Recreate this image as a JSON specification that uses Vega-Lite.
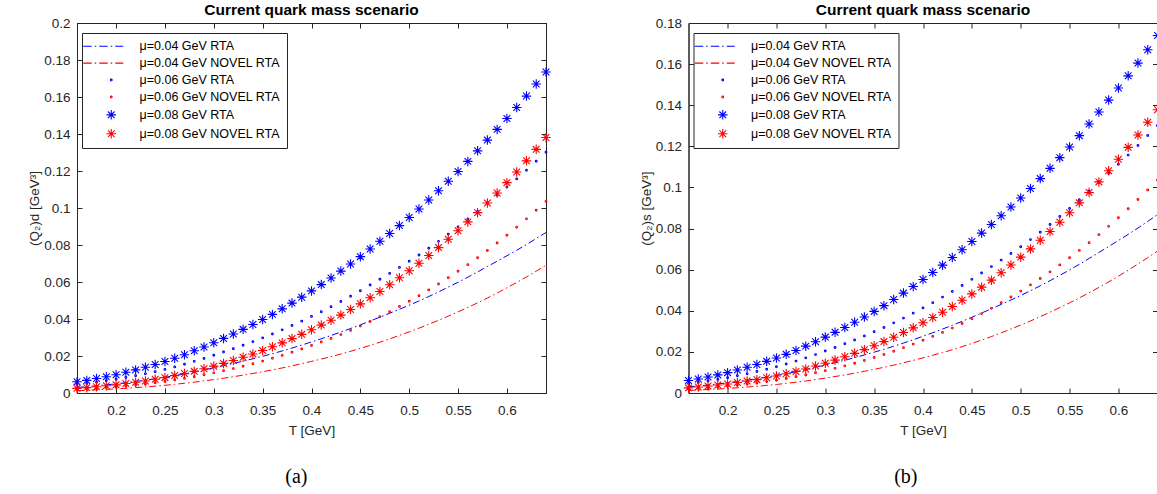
{
 "$schema": "https://vega.github.io/schema/vega-lite/v6.json",
 "padding": {"left": 27, "top": 2, "right": 5, "bottom": 5},
 "background": "white",
 "config": {
  "view": {"stroke": "#262626", "strokeWidth": 1},
  "font": "Liberation Sans",
  "axis": {"labelFont": "Liberation Sans", "labelFontSize": 13.5, "labelColor": "#262626", "titleFont": "Liberation Sans", "titleFontSize": 13.5, "titleFontWeight": "normal", "titleColor": "#262626", "domainColor": "#262626", "tickColor": "#262626", "tickSize": -5, "grid": false},
  "axisX": {"labelPadding": 15.3, "titlePadding": 7},
  "axisY": {"labelPadding": 12, "titlePadding": 2},
  "title": {"font": "Liberation Sans", "fontSize": 15.5, "fontWeight": "bold", "color": "black", "offset": -2},
  "legend": {"title": null, "orient": "none", "legendX": 5, "legendY": 10, "padding": 7, "strokeColor": "#262626", "fillColor": "white", "symbolOffset": 16, "labelOffset": 22, "rowPadding": 3.9, "labelFont": "Liberation Sans", "labelFontSize": 12.5, "labelColor": "black", "labelLimit": 300, "symbolStrokeWidth": 1.1, "symbolSize": 100}
 },
 "resolve": {"scale": {"color": "independent", "shape": "independent"}, "legend": {"color": "independent", "shape": "independent"}},
 "datasets": {
  "qd": [
  {"T":0.16,"b4":0.00305,"r4":0.00125,"b6":0.00458,"r6":0.00188,"b8":0.0061,"r8":0.0025},
  {"T":0.17,"b4":0.0034,"r4":0.00145,"b6":0.0051,"r6":0.00218,"b8":0.0068,"r8":0.0029},
  {"T":0.18,"b4":0.0039,"r4":0.0017,"b6":0.00585,"r6":0.00255,"b8":0.0078,"r8":0.0034},
  {"T":0.19,"b4":0.0044,"r4":0.00195,"b6":0.0066,"r6":0.00293,"b8":0.0088,"r8":0.0039},
  {"T":0.2,"b4":0.00495,"r4":0.0022,"b6":0.00743,"r6":0.0033,"b8":0.0099,"r8":0.0044},
  {"T":0.21,"b4":0.0056,"r4":0.00255,"b6":0.0084,"r6":0.00383,"b8":0.0112,"r8":0.0051},
  {"T":0.22,"b4":0.00625,"r4":0.0029,"b6":0.00938,"r6":0.00435,"b8":0.0125,"r8":0.0058},
  {"T":0.23,"b4":0.00695,"r4":0.00325,"b6":0.01043,"r6":0.00488,"b8":0.0139,"r8":0.0065},
  {"T":0.24,"b4":0.0077,"r4":0.0037,"b6":0.01155,"r6":0.00555,"b8":0.0154,"r8":0.0074},
  {"T":0.25,"b4":0.0085,"r4":0.00415,"b6":0.01275,"r6":0.00623,"b8":0.017,"r8":0.0083},
  {"T":0.26,"b4":0.0094,"r4":0.0047,"b6":0.0141,"r6":0.00705,"b8":0.0188,"r8":0.0094},
  {"T":0.27,"b4":0.01035,"r4":0.00525,"b6":0.01553,"r6":0.00788,"b8":0.0207,"r8":0.0105},
  {"T":0.28,"b4":0.0114,"r4":0.00585,"b6":0.0171,"r6":0.00878,"b8":0.0228,"r8":0.0117},
  {"T":0.29,"b4":0.01245,"r4":0.00655,"b6":0.01868,"r6":0.00983,"b8":0.0249,"r8":0.0131},
  {"T":0.3,"b4":0.0136,"r4":0.00725,"b6":0.0204,"r6":0.01088,"b8":0.0272,"r8":0.0145},
  {"T":0.31,"b4":0.01475,"r4":0.008,"b6":0.02213,"r6":0.012,"b8":0.0295,"r8":0.016},
  {"T":0.32,"b4":0.01595,"r4":0.0088,"b6":0.02393,"r6":0.0132,"b8":0.0319,"r8":0.0176},
  {"T":0.33,"b4":0.0172,"r4":0.00965,"b6":0.0258,"r6":0.01448,"b8":0.0344,"r8":0.0193},
  {"T":0.34,"b4":0.0185,"r4":0.01055,"b6":0.02775,"r6":0.01583,"b8":0.037,"r8":0.0211},
  {"T":0.35,"b4":0.01985,"r4":0.0115,"b6":0.02978,"r6":0.01725,"b8":0.0397,"r8":0.023},
  {"T":0.36,"b4":0.02125,"r4":0.0125,"b6":0.03188,"r6":0.01875,"b8":0.0425,"r8":0.025},
  {"T":0.37,"b4":0.02275,"r4":0.01355,"b6":0.03413,"r6":0.02033,"b8":0.0455,"r8":0.0271},
  {"T":0.38,"b4":0.0243,"r4":0.0147,"b6":0.03645,"r6":0.02205,"b8":0.0486,"r8":0.0294},
  {"T":0.39,"b4":0.0259,"r4":0.01585,"b6":0.03885,"r6":0.02378,"b8":0.0518,"r8":0.0317},
  {"T":0.4,"b4":0.0276,"r4":0.0171,"b6":0.0414,"r6":0.02565,"b8":0.0552,"r8":0.0342},
  {"T":0.41,"b4":0.0293,"r4":0.01835,"b6":0.04395,"r6":0.02753,"b8":0.0586,"r8":0.0367},
  {"T":0.42,"b4":0.0311,"r4":0.01965,"b6":0.04665,"r6":0.02948,"b8":0.0622,"r8":0.0393},
  {"T":0.43,"b4":0.03295,"r4":0.02105,"b6":0.04943,"r6":0.03158,"b8":0.0659,"r8":0.0421},
  {"T":0.44,"b4":0.03485,"r4":0.02255,"b6":0.05228,"r6":0.03383,"b8":0.0697,"r8":0.0451},
  {"T":0.45,"b4":0.03685,"r4":0.0241,"b6":0.05528,"r6":0.03615,"b8":0.0737,"r8":0.0482},
  {"T":0.46,"b4":0.0389,"r4":0.02575,"b6":0.05835,"r6":0.03863,"b8":0.0778,"r8":0.0515},
  {"T":0.47,"b4":0.041,"r4":0.02745,"b6":0.0615,"r6":0.04118,"b8":0.082,"r8":0.0549},
  {"T":0.48,"b4":0.0431,"r4":0.02925,"b6":0.06465,"r6":0.04388,"b8":0.0862,"r8":0.0585},
  {"T":0.49,"b4":0.04525,"r4":0.03115,"b6":0.06788,"r6":0.04673,"b8":0.0905,"r8":0.0623},
  {"T":0.5,"b4":0.04745,"r4":0.03305,"b6":0.07118,"r6":0.04958,"b8":0.0949,"r8":0.0661},
  {"T":0.51,"b4":0.04975,"r4":0.03505,"b6":0.07463,"r6":0.05258,"b8":0.0995,"r8":0.0701},
  {"T":0.52,"b4":0.05215,"r4":0.03715,"b6":0.07823,"r6":0.05573,"b8":0.1043,"r8":0.0743},
  {"T":0.53,"b4":0.05465,"r4":0.0393,"b6":0.08198,"r6":0.05895,"b8":0.1093,"r8":0.0786},
  {"T":0.54,"b4":0.05725,"r4":0.04155,"b6":0.08588,"r6":0.06233,"b8":0.1145,"r8":0.0831},
  {"T":0.55,"b4":0.05985,"r4":0.04385,"b6":0.08978,"r6":0.06578,"b8":0.1197,"r8":0.0877},
  {"T":0.56,"b4":0.0626,"r4":0.04625,"b6":0.0939,"r6":0.06938,"b8":0.1252,"r8":0.0925},
  {"T":0.57,"b4":0.06545,"r4":0.04875,"b6":0.09818,"r6":0.07313,"b8":0.1309,"r8":0.0975},
  {"T":0.58,"b4":0.06835,"r4":0.05135,"b6":0.10253,"r6":0.07703,"b8":0.1367,"r8":0.1027},
  {"T":0.59,"b4":0.07125,"r4":0.05405,"b6":0.10688,"r6":0.08108,"b8":0.1425,"r8":0.1081},
  {"T":0.6,"b4":0.0742,"r4":0.05685,"b6":0.1113,"r6":0.08528,"b8":0.1484,"r8":0.1137},
  {"T":0.61,"b4":0.07715,"r4":0.05975,"b6":0.11573,"r6":0.08963,"b8":0.1543,"r8":0.1195},
  {"T":0.62,"b4":0.08025,"r4":0.06275,"b6":0.12038,"r6":0.09413,"b8":0.1605,"r8":0.1255},
  {"T":0.63,"b4":0.0835,"r4":0.06585,"b6":0.12525,"r6":0.09878,"b8":0.167,"r8":0.1317},
  {"T":0.64,"b4":0.08675,"r4":0.06905,"b6":0.13013,"r6":0.10358,"b8":0.1735,"r8":0.1381}
  ],
  "qs": [
  {"T":0.16,"B4":0.00305,"R4":0.00125,"B6":0.00458,"R6":0.00188,"B8":0.0061,"R8":0.0025},
  {"T":0.17,"B4":0.0034,"R4":0.00145,"B6":0.0051,"R6":0.00218,"B8":0.0068,"R8":0.0029},
  {"T":0.18,"B4":0.0039,"R4":0.0017,"B6":0.00585,"R6":0.00255,"B8":0.0078,"R8":0.0034},
  {"T":0.19,"B4":0.0044,"R4":0.00195,"B6":0.0066,"R6":0.00293,"B8":0.0088,"R8":0.0039},
  {"T":0.2,"B4":0.00495,"R4":0.0022,"B6":0.00743,"R6":0.0033,"B8":0.0099,"R8":0.0044},
  {"T":0.21,"B4":0.0056,"R4":0.00255,"B6":0.0084,"R6":0.00383,"B8":0.0112,"R8":0.0051},
  {"T":0.22,"B4":0.00625,"R4":0.0029,"B6":0.00938,"R6":0.00435,"B8":0.0125,"R8":0.0058},
  {"T":0.23,"B4":0.00695,"R4":0.00325,"B6":0.01043,"R6":0.00488,"B8":0.0139,"R8":0.0065},
  {"T":0.24,"B4":0.0077,"R4":0.0037,"B6":0.01155,"R6":0.00555,"B8":0.0154,"R8":0.0074},
  {"T":0.25,"B4":0.0085,"R4":0.00415,"B6":0.01275,"R6":0.00623,"B8":0.017,"R8":0.0083},
  {"T":0.26,"B4":0.0094,"R4":0.0047,"B6":0.0141,"R6":0.00705,"B8":0.0188,"R8":0.0094},
  {"T":0.27,"B4":0.01035,"R4":0.00525,"B6":0.01553,"R6":0.00788,"B8":0.0207,"R8":0.0105},
  {"T":0.28,"B4":0.0114,"R4":0.00585,"B6":0.0171,"R6":0.00878,"B8":0.0228,"R8":0.0117},
  {"T":0.29,"B4":0.01245,"R4":0.00655,"B6":0.01868,"R6":0.00983,"B8":0.0249,"R8":0.0131},
  {"T":0.3,"B4":0.0136,"R4":0.00725,"B6":0.0204,"R6":0.01088,"B8":0.0272,"R8":0.0145},
  {"T":0.31,"B4":0.01475,"R4":0.008,"B6":0.02213,"R6":0.012,"B8":0.0295,"R8":0.016},
  {"T":0.32,"B4":0.01595,"R4":0.0088,"B6":0.02393,"R6":0.0132,"B8":0.0319,"R8":0.0176},
  {"T":0.33,"B4":0.0172,"R4":0.00965,"B6":0.0258,"R6":0.01448,"B8":0.0344,"R8":0.0193},
  {"T":0.34,"B4":0.0185,"R4":0.01055,"B6":0.02775,"R6":0.01583,"B8":0.037,"R8":0.0211},
  {"T":0.35,"B4":0.01985,"R4":0.0115,"B6":0.02978,"R6":0.01725,"B8":0.0397,"R8":0.023},
  {"T":0.36,"B4":0.02125,"R4":0.0125,"B6":0.03188,"R6":0.01875,"B8":0.0425,"R8":0.025},
  {"T":0.37,"B4":0.02275,"R4":0.01355,"B6":0.03413,"R6":0.02033,"B8":0.0455,"R8":0.0271},
  {"T":0.38,"B4":0.0243,"R4":0.0147,"B6":0.03645,"R6":0.02205,"B8":0.0486,"R8":0.0294},
  {"T":0.39,"B4":0.0259,"R4":0.01585,"B6":0.03885,"R6":0.02378,"B8":0.0518,"R8":0.0317},
  {"T":0.4,"B4":0.0276,"R4":0.0171,"B6":0.0414,"R6":0.02565,"B8":0.0552,"R8":0.0342},
  {"T":0.41,"B4":0.0293,"R4":0.01835,"B6":0.04395,"R6":0.02753,"B8":0.0586,"R8":0.0367},
  {"T":0.42,"B4":0.0311,"R4":0.01965,"B6":0.04665,"R6":0.02948,"B8":0.0622,"R8":0.0393},
  {"T":0.43,"B4":0.03295,"R4":0.02105,"B6":0.04943,"R6":0.03158,"B8":0.0659,"R8":0.0421},
  {"T":0.44,"B4":0.03485,"R4":0.02255,"B6":0.05228,"R6":0.03383,"B8":0.0697,"R8":0.0451},
  {"T":0.45,"B4":0.03685,"R4":0.0241,"B6":0.05528,"R6":0.03615,"B8":0.0737,"R8":0.0482},
  {"T":0.46,"B4":0.0389,"R4":0.02575,"B6":0.05835,"R6":0.03863,"B8":0.0778,"R8":0.0515},
  {"T":0.47,"B4":0.041,"R4":0.02745,"B6":0.0615,"R6":0.04118,"B8":0.082,"R8":0.0549},
  {"T":0.48,"B4":0.0431,"R4":0.02925,"B6":0.06465,"R6":0.04388,"B8":0.0862,"R8":0.0585},
  {"T":0.49,"B4":0.04525,"R4":0.03115,"B6":0.06788,"R6":0.04673,"B8":0.0905,"R8":0.0623},
  {"T":0.5,"B4":0.04745,"R4":0.03305,"B6":0.07118,"R6":0.04958,"B8":0.0949,"R8":0.0661},
  {"T":0.51,"B4":0.04975,"R4":0.03505,"B6":0.07463,"R6":0.05258,"B8":0.0995,"R8":0.0701},
  {"T":0.52,"B4":0.05215,"R4":0.03715,"B6":0.07823,"R6":0.05573,"B8":0.1043,"R8":0.0743},
  {"T":0.53,"B4":0.05465,"R4":0.0393,"B6":0.08198,"R6":0.05895,"B8":0.1093,"R8":0.0786},
  {"T":0.54,"B4":0.05725,"R4":0.04155,"B6":0.08588,"R6":0.06233,"B8":0.1145,"R8":0.0831},
  {"T":0.55,"B4":0.05985,"R4":0.04385,"B6":0.08978,"R6":0.06578,"B8":0.1197,"R8":0.0877},
  {"T":0.56,"B4":0.0626,"R4":0.04625,"B6":0.0939,"R6":0.06938,"B8":0.1252,"R8":0.0925},
  {"T":0.57,"B4":0.06545,"R4":0.04875,"B6":0.09818,"R6":0.07313,"B8":0.1309,"R8":0.0975},
  {"T":0.58,"B4":0.06835,"R4":0.05135,"B6":0.10253,"R6":0.07703,"B8":0.1367,"R8":0.1027},
  {"T":0.59,"B4":0.07125,"R4":0.05405,"B6":0.10688,"R6":0.08108,"B8":0.1425,"R8":0.1081},
  {"T":0.6,"B4":0.0742,"R4":0.05685,"B6":0.1113,"R6":0.08528,"B8":0.1484,"R8":0.1137},
  {"T":0.61,"B4":0.07715,"R4":0.05975,"B6":0.11573,"R6":0.08963,"B8":0.1543,"R8":0.1195},
  {"T":0.62,"B4":0.08025,"R4":0.06275,"B6":0.12038,"R6":0.09413,"B8":0.1605,"R8":0.1255},
  {"T":0.63,"B4":0.0835,"R4":0.06585,"B6":0.12525,"R6":0.09878,"B8":0.167,"R8":0.1317},
  {"T":0.64,"B4":0.08675,"R4":0.06905,"B6":0.13013,"R6":0.10358,"B8":0.1739,"R8":0.1378}
  ]
 },
 "spacing": 84.5,
 "hconcat": [
  {
   "title": {"text": "(a)", "orient": "bottom", "font": "Liberation Serif", "fontSize": 20, "fontWeight": "normal", "color": "black", "offset": 29.5, "anchor": "middle", "frame": "bounds", "dx": 6},
   "vconcat": [{
    "title": {"text": "Current quark mass scenario", "anchor": "middle", "frame": "group"},
    "width": 469, "height": 370,
    "data": {"name": "qd"},
    "transform": [{"fold": ["b4","r4","b6","r6","b8","r8"], "as": ["key","v"]}],
    "resolve": {"axis": {"x": "independent", "y": "independent"}},
    "layer": [
     {
      "transform": [{"filter": {"field": "key", "oneOf": ["b4","r4"]}}],
      "mark": {"type": "line", "strokeDash": [7,3,1.5,3], "strokeWidth": 1},
      "encoding": {
       "x": {"field": "T", "type": "quantitative", "scale": {"domain": [0.16,0.64], "nice": false, "zero": false}, "axis": {"orient": "bottom", "values": [0.2,0.25,0.3,0.35,0.4,0.45,0.5,0.55,0.6], "format": "~g", "title": "T [GeV]"}},
       "y": {"field": "v", "type": "quantitative", "scale": {"domain": [0,0.2], "nice": false}, "axis": {"orient": "left", "values": [0,0.02,0.04,0.06,0.08,0.1,0.12,0.14,0.16,0.18,0.2], "format": "~g", "title": "(Q₂)d [GeV³]"}},
       "color": {"field": "key", "type": "nominal", "scale": {"domain": ["b4","r4","b6","r6","b8","r8"], "range": ["#0000ff","#ff0000","#0000ff","#ff0000","#0000ff","#ff0000"]}, "legend": {"labelExpr": "datum.label=='b4'?'μ=0.04 GeV RTA':datum.label=='r4'?'μ=0.04 GeV NOVEL RTA':datum.label=='b6'?'μ=0.06 GeV RTA':datum.label=='r6'?'μ=0.06 GeV NOVEL RTA':datum.label=='b8'?'μ=0.08 GeV RTA':'μ=0.08 GeV NOVEL RTA'"}}
      }
     },
     {
      "transform": [{"filter": {"field": "key", "oneOf": ["b6","r6","b8","r8"]}}],
      "mark": {"type": "point", "filled": false, "size": 100, "strokeWidth": 1.1, "opacity": 1},
      "encoding": {
       "x": {"field": "T", "type": "quantitative", "axis": {"orient": "top", "values": [0.2,0.25,0.3,0.35,0.4,0.45,0.5,0.55,0.6], "labels": false, "labelPadding": 0, "title": null}},
       "y": {"field": "v", "type": "quantitative", "axis": {"orient": "right", "values": [0,0.02,0.04,0.06,0.08,0.1,0.12,0.14,0.16,0.18,0.2], "labels": false, "labelPadding": 0, "title": null}},
       "color": {"field": "key", "type": "nominal", "legend": {"labelExpr": "datum.label=='b4'?'μ=0.04 GeV RTA':datum.label=='r4'?'μ=0.04 GeV NOVEL RTA':datum.label=='b6'?'μ=0.06 GeV RTA':datum.label=='r6'?'μ=0.06 GeV NOVEL RTA':datum.label=='b8'?'μ=0.08 GeV RTA':'μ=0.08 GeV NOVEL RTA'"}},
       "shape": {"field": "key", "type": "nominal", "scale": {"domain": ["b4","r4","b6","r6","b8","r8"], "range": ["M-5.6,0H-3.9M-3.3,0H-3M-2.4,0H-0.7M-0.1,0H0.2M0.8,0H2.4","M-5.6,0H-3.9M-3.3,0H-3M-2.4,0H-0.7M-0.1,0H0.2M0.8,0H2.4","M-0.18,0A0.18,0.18 0 1,0 0.18,0A0.18,0.18 0 1,0 -0.18,0Z","M-0.18,0A0.18,0.18 0 1,0 0.18,0A0.18,0.18 0 1,0 -0.18,0Z","M-0.95,0H0.95M0,-0.95V0.95M-0.67,-0.67L0.67,0.67M-0.67,0.67L0.67,-0.67","M-0.95,0H0.95M0,-0.95V0.95M-0.67,-0.67L0.67,0.67M-0.67,0.67L0.67,-0.67"]}, "legend": {"labelExpr": "datum.label=='b4'?'μ=0.04 GeV RTA':datum.label=='r4'?'μ=0.04 GeV NOVEL RTA':datum.label=='b6'?'μ=0.06 GeV RTA':datum.label=='r6'?'μ=0.06 GeV NOVEL RTA':datum.label=='b8'?'μ=0.08 GeV RTA':'μ=0.08 GeV NOVEL RTA'"}}
      }
     }
    ]
   }]
  },
  {
   "title": {"text": "(b)", "orient": "bottom", "font": "Liberation Serif", "fontSize": 20, "fontWeight": "normal", "color": "black", "offset": 29.5, "anchor": "middle", "frame": "bounds", "dx": 4},
   "vconcat": [{
    "title": {"text": "Current quark mass scenario", "anchor": "middle", "frame": "group"},
    "width": 469, "height": 370,
    "data": {"name": "qs"},
    "transform": [{"fold": ["B4","R4","B6","R6","B8","R8"], "as": ["key","v"]}],
    "resolve": {"axis": {"x": "independent", "y": "independent"}},
    "layer": [
     {
      "transform": [{"filter": {"field": "key", "oneOf": ["B4","R4"]}}],
      "mark": {"type": "line", "strokeDash": [7,3,1.5,3], "strokeWidth": 1},
      "encoding": {
       "x": {"field": "T", "type": "quantitative", "scale": {"domain": [0.16,0.64], "nice": false, "zero": false}, "axis": {"orient": "bottom", "values": [0.2,0.25,0.3,0.35,0.4,0.45,0.5,0.55,0.6], "format": "~g", "title": "T [GeV]"}},
       "y": {"field": "v", "type": "quantitative", "scale": {"domain": [0,0.18], "nice": false}, "axis": {"orient": "left", "values": [0,0.02,0.04,0.06,0.08,0.1,0.12,0.14,0.16,0.18], "format": "~g", "title": "(Q₂)s [GeV³]"}},
       "color": {"field": "key", "type": "nominal", "scale": {"domain": ["B4","R4","B6","R6","B8","R8"], "range": ["#0000ff","#ff0000","#0000ff","#ff0000","#0000ff","#ff0000"]}, "legend": {"labelExpr": "datum.label=='B4'?'μ=0.04 GeV RTA':datum.label=='R4'?'μ=0.04 GeV NOVEL RTA':datum.label=='B6'?'μ=0.06 GeV RTA':datum.label=='R6'?'μ=0.06 GeV NOVEL RTA':datum.label=='B8'?'μ=0.08 GeV RTA':'μ=0.08 GeV NOVEL RTA'"}}
      }
     },
     {
      "transform": [{"filter": {"field": "key", "oneOf": ["B6","R6","B8","R8"]}}],
      "mark": {"type": "point", "filled": false, "size": 100, "strokeWidth": 1.1, "opacity": 1},
      "encoding": {
       "x": {"field": "T", "type": "quantitative", "axis": {"orient": "top", "values": [0.2,0.25,0.3,0.35,0.4,0.45,0.5,0.55,0.6], "labels": false, "labelPadding": 0, "title": null}},
       "y": {"field": "v", "type": "quantitative", "axis": {"orient": "right", "values": [0,0.02,0.04,0.06,0.08,0.1,0.12,0.14,0.16,0.18], "labels": false, "labelPadding": 0, "title": null}},
       "color": {"field": "key", "type": "nominal", "legend": {"labelExpr": "datum.label=='B4'?'μ=0.04 GeV RTA':datum.label=='R4'?'μ=0.04 GeV NOVEL RTA':datum.label=='B6'?'μ=0.06 GeV RTA':datum.label=='R6'?'μ=0.06 GeV NOVEL RTA':datum.label=='B8'?'μ=0.08 GeV RTA':'μ=0.08 GeV NOVEL RTA'"}},
       "shape": {"field": "key", "type": "nominal", "scale": {"domain": ["B4","R4","B6","R6","B8","R8"], "range": ["M-5.6,0H-3.9M-3.3,0H-3M-2.4,0H-0.7M-0.1,0H0.2M0.8,0H2.4","M-5.6,0H-3.9M-3.3,0H-3M-2.4,0H-0.7M-0.1,0H0.2M0.8,0H2.4","M-0.18,0A0.18,0.18 0 1,0 0.18,0A0.18,0.18 0 1,0 -0.18,0Z","M-0.18,0A0.18,0.18 0 1,0 0.18,0A0.18,0.18 0 1,0 -0.18,0Z","M-0.95,0H0.95M0,-0.95V0.95M-0.67,-0.67L0.67,0.67M-0.67,0.67L0.67,-0.67","M-0.95,0H0.95M0,-0.95V0.95M-0.67,-0.67L0.67,0.67M-0.67,0.67L0.67,-0.67"]}, "legend": {"labelExpr": "datum.label=='B4'?'μ=0.04 GeV RTA':datum.label=='R4'?'μ=0.04 GeV NOVEL RTA':datum.label=='B6'?'μ=0.06 GeV RTA':datum.label=='R6'?'μ=0.06 GeV NOVEL RTA':datum.label=='B8'?'μ=0.08 GeV RTA':'μ=0.08 GeV NOVEL RTA'"}}
      }
     }
    ]
   }]
  }
 ]
}
